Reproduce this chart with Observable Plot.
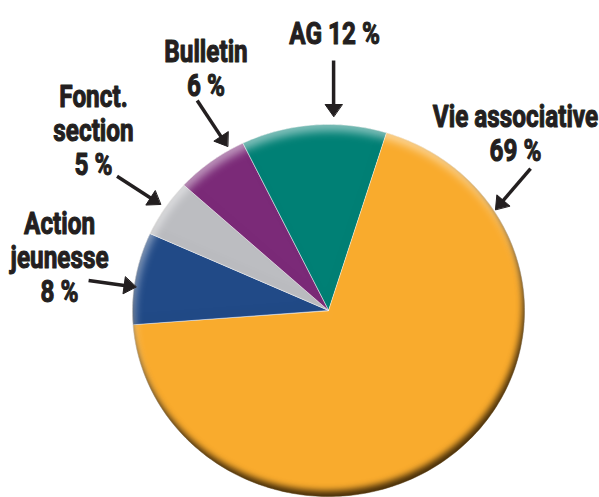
<!DOCTYPE html>
<html><head><meta charset="utf-8">
<script src="https://cdn.jsdelivr.net/npm/d3@7"></script>
<script src="https://cdn.jsdelivr.net/npm/@observablehq/plot@0.6"></script>
<style>
html,body{margin:0;padding:0;background:#fff;}
</style></head><body><div id="chart"></div>
<script>
// ---- data ----
const categories = ["AG", "Vie associative", "Action jeunesse", "Fonct. section", "Bulletin"];
const values = [12, 69, 8, 5, 6];
const labels = ["AG 12 %", "Vie associative\n69 %", "Action\njeunesse\n8 %", "Fonct.\nsection\n5 %", "Bulletin\n6 %"];
const colors = ["#008075", "#F9AB2D", "#214A87", "#BCBDC1", "#7B2A78"];

// ---- layout (annotation placement, in the pie's unit coordinates) ----
const W = 599, H = 497;
const xRange = [132, 524], yRange = [496, 124];
const startDeg = -26;
const labelPos = [[0.031, 1.492], [0.954, 0.953], [-1.372, 0.288], [-1.199, 0.968], [-0.625, 1.305]];
const arrowPos = [
  [0.026, 1.344, 0.026, 1.043],
  [1.031, 0.763, 0.852, 0.543],
  [-1.224, 0.161, -0.982, 0.126],
  [-1.079, 0.722, -0.857, 0.570],
  [-0.670, 1.129, -0.515, 0.882]
];
const FONT = "Roboto, 'DejaVu Sans', sans-serif";
const INK = "#231F20";
const TEXT_SCALE = 0.76;

// pixel <-> unit helpers
const kx = (xRange[1] - xRange[0]) / 2, ky = (yRange[0] - yRange[1]) / 2;
const cx = (xRange[0] + xRange[1]) / 2, cy = (yRange[0] + yRange[1]) / 2;
const toPx = (u, v) => [cx + u * kx, cy - v * ky];
const toU = (px, py) => [(px - cx) / kx, (cy - py) / ky];

// slices
const a0 = startDeg * Math.PI / 180;
const arcs = d3.pie().sort(null).value(d => d).startAngle(a0).endAngle(a0 + 2 * Math.PI)(values);
const slicePts = [];
arcs.forEach((a, i) => {
  slicePts.push({name: categories[i], u: 0, v: 0});
  const n = Math.max(8, Math.ceil((a.endAngle - a.startAngle) / (Math.PI / 180)));
  for (let k = 0; k <= n; k++) {
    const t = a.startAngle + (a.endAngle - a.startAngle) * k / n;
    slicePts.push({name: categories[i], u: Math.sin(t), v: Math.cos(t)});
  }
});

// arrows
const L = 12, HW = 8.5;
const shafts = [], heads = [];
arrowPos.forEach(([u1, v1, u2, v2], i) => {
  const [x1, y1] = toPx(u1, v1), [x2, y2] = toPx(u2, v2);
  const len = Math.hypot(x2 - x1, y2 - y1), dx = (x2 - x1) / len, dy = (y2 - y1) / len;
  const bx = x2 - dx * L, by = y2 - dy * L;
  const [bu, bv] = toU(bx + dx * 2, by + dy * 2);
  shafts.push({u1, v1, u2: bu, v2: bv});
  const pts = [[x2, y2], [bx - dy * HW, by + dx * HW], [bx + dy * HW, by - dx * HW]];
  pts.forEach(([px, py]) => { const [u, v] = toU(px, py); heads.push({id: i, u, v}); });
});

const texts = labels.map((t, i) => ({text: t, u: labelPos[i][0], v: labelPos[i][1]}));

const svg = Plot.plot({
  width: W, height: H, margin: 0,
  x: {domain: [-1, 1], range: xRange, axis: null},
  y: {domain: [-1, 1], range: yRange, axis: null},
  color: {domain: categories, range: colors},
  style: {background: "white", fontFamily: FONT},
  marks: [
    Plot.line(slicePts, {x: "u", y: "v", z: "name", fill: "name", stroke: "white", strokeWidth: 0.8, strokeOpacity: 0.6, curve: "linear-closed"}),
    Plot.link(shafts, {x1: "u1", y1: "v1", x2: "u2", y2: "v2", stroke: INK, strokeWidth: 3.5}),
    Plot.line(heads, {x: "u", y: "v", z: "id", fill: INK, stroke: INK, strokeWidth: 1, curve: "linear-closed"}),
    Plot.text(texts, {x: "u", y: "v", text: "text", fontSize: 32, fontWeight: "bold", lineHeight: 1.06, fill: INK, stroke: INK, strokeWidth: 1.1, fontFamily: FONT})
  ]
});
document.getElementById("chart").appendChild(svg);

// bevel shading on the pie
const defs = document.createElementNS("http://www.w3.org/2000/svg", "defs");
defs.innerHTML = `
<filter id="bevel" x="-20%" y="-20%" width="140%" height="140%" color-interpolation-filters="sRGB">
  <feComponentTransfer in="SourceAlpha" result="inv"><feFuncA type="table" tableValues="1 0"/></feComponentTransfer>
  <feGaussianBlur in="inv" stdDeviation="3.2" result="invBlur"/>
  <feOffset in="invBlur" dx="-2" dy="-6" result="shOff"/>
  <feFlood flood-color="#3e2807" flood-opacity="0.95" result="shCol"/>
  <feComposite in="shCol" in2="shOff" operator="in" result="sh1"/>
  <feComposite in="sh1" in2="SourceAlpha" operator="in" result="shadow"/>
  <feGaussianBlur in="inv" stdDeviation="4" result="invBlur2"/>
  <feOffset in="invBlur2" dx="2" dy="7" result="hlOff"/>
  <feFlood flood-color="#ffffff" flood-opacity="0.5" result="hlCol"/>
  <feComposite in="hlCol" in2="hlOff" operator="in" result="hl1"/>
  <feComposite in="hl1" in2="SourceAlpha" operator="in" result="highlight"/>
  <feMerge><feMergeNode in="SourceGraphic"/><feMergeNode in="highlight"/><feMergeNode in="shadow"/></feMerge>
</filter>`;
svg.insertBefore(defs, svg.firstChild);
const lineGroups = svg.querySelectorAll('g[aria-label="line"]');
if (lineGroups.length) lineGroups[0].setAttribute("filter", "url(#bevel)");

// condense the label lettering horizontally
svg.querySelectorAll('g[aria-label="text"] text').forEach(el => {
  const t = el.getAttribute("transform") || "";
  const x = +(el.getAttribute("x") || 0);
  el.setAttribute("transform", `${t} translate(${x},0) scale(${TEXT_SCALE},1) translate(${-x},0)`);
});
</script></body></html>
